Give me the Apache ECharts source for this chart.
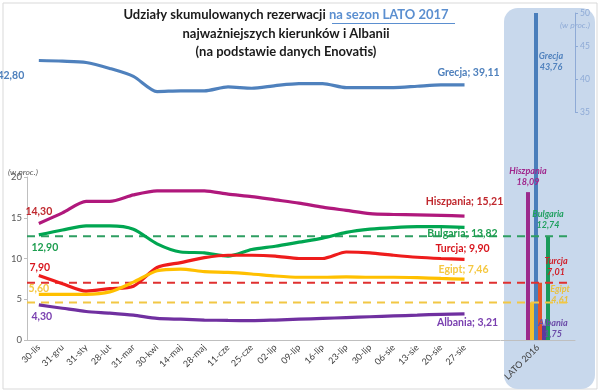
<!DOCTYPE html>
<html><head><meta charset="utf-8">
<script src="https://cdn.jsdelivr.net/npm/echarts@6/dist/echarts.min.js"></script>
<style>html,body{margin:0;padding:0;background:#fff}#c{width:600px;height:392px}</style>
</head><body><div id="c"></div>
<script>
const categories = ['30-lis','31-gru','31-sty','28-lut','31-mar','30-kwi','14-maj','28-maj','11-cze','25-cze','02-lip','09-lip','16-lip','23-lip','30-lip','06-sie','13-sie','20-sie','27-sie',''];
const grecja    = [42.80,42.7,42.5,41.6,40.4,38.1,38.2,38.2,38.8,38.6,39.0,39.3,39.3,38.7,38.7,38.7,38.9,39.1,39.11];
const hiszpania = [14.30,15.6,17.0,17.0,17.8,18.3,18.3,18.3,17.9,17.6,17.2,16.8,16.3,15.9,15.5,15.4,15.35,15.3,15.21];
const bulgaria  = [12.90,13.5,14.0,14.0,13.6,11.8,10.8,10.7,10.3,11.1,11.5,12.0,12.5,13.2,13.6,13.8,13.9,13.9,13.82];
const turcja    = [7.90,6.9,6.0,6.3,6.6,8.9,9.5,10.1,10.4,10.4,10.3,10.0,10.0,10.8,10.7,10.4,10.15,10.0,9.90];
const egipt     = [5.60,5.6,5.6,5.9,7.1,8.5,8.7,8.4,8.3,8.1,7.85,7.7,7.7,7.75,7.7,7.7,7.65,7.55,7.46];
const albania   = [4.30,3.9,3.5,3.3,3.05,2.65,2.55,2.45,2.4,2.37,2.45,2.55,2.65,2.75,2.85,2.95,3.05,3.15,3.21];
const lato2016Cat = ['LATO 2016'];
const lato2016 = {Hiszpania:18.09, Egipt:4.61, Grecja:43.76, Turcja:7.01, Albania:1.75, Bulgaria:12.74};
const leftTicks = [0,5,10,15,20];
const rightTicks = [35,40,45,50];

const FF = 'Lato, "Liberation Sans", sans-serif';
const fmt = v => v.toFixed(2).replace('.', ',');

function lineSeries(name, vals, color, xi, yi, startLab, endLab, labColor){
  const last = vals.length - 1;
  const lab = (off, txt) => ({show:true, position:'inside', offset:off, formatter:txt, color:labColor,
    fontFamily:FF, fontWeight:'bold', fontSize:10.5});
  const data = vals.map((v,i)=>{
    if(i===0) return {value:v, label:lab(startLab, fmt(v))};
    if(i===last) return {value:v, label:lab(endLab, name+'; '+fmt(v))};
    return v;
  });
  return {type:'line', name, xAxisIndex:xi, yAxisIndex:yi, data, smooth:0.25, showSymbol:true, showAllSymbol:true,
    symbol:'circle', symbolSize:1,
    lineStyle:{color, width:3.2}, itemStyle:{color:'rgba(0,0,0,0)', borderWidth:0}, z:4,
    label:{show:false}, emphasis:{disabled:true}, animation:false};
}
function barSeries(name, color, labColor, off){
  return {type:'bar', name, xAxisIndex:2, yAxisIndex:2, data:[lato2016[name]], barWidth:4, barGap:0, clip:true,
    itemStyle:{color}, animation:false, z:3,
    label:{show:true, position:'top', offset:off, formatter:()=>name+'\n'+fmt(lato2016[name]), color:labColor,
      fontFamily:FF, fontStyle:'italic', fontWeight:'bold', fontSize:9, lineHeight:11}};
}
function dashSeries(v, color){
  return {type:'line', xAxisIndex:3, yAxisIndex:3, data:[[0,v],[1,v]], symbol:'none', z:3,
    lineStyle:{color, width:2, type:[8,6]}, animation:false, silent:true};
}

const chart = echarts.init(document.getElementById('c'), null, {renderer:'canvas'});
chart.setOption({
  animation:false,
  backgroundColor:'#fff',
  grid:[
    {left:27, right:100, top:177, bottom:52},
    {left:27, right:100, top:13, bottom:280},
    {left:501, width:74, top:13, bottom:52},
    {left:27, right:28, top:177, bottom:52}
  ],
  xAxis:[
    {type:'category', gridIndex:0, data:categories, boundaryGap:true,
      axisLine:{lineStyle:{color:'#bfbfbf'}}, axisTick:{length:4, lineStyle:{color:'#bfbfbf'}},
      axisLabel:{rotate:45, interval:0, fontSize:9, color:'#404040', fontFamily:FF, margin:6}},
    {type:'category', gridIndex:1, data:categories, boundaryGap:true, show:false},
    {type:'category', gridIndex:2, data:lato2016Cat,
      axisLine:{lineStyle:{color:'#bfbfbf'}}, axisTick:{length:4, lineStyle:{color:'#bfbfbf'}},
      axisLabel:{rotate:45, interval:0, fontSize:9, color:'#404040', fontFamily:FF, margin:6}},
    {type:'value', gridIndex:3, min:0, max:1, show:false}
  ],
  yAxis:[
    {type:'value', gridIndex:0, min:leftTicks[0], max:leftTicks[leftTicks.length-1], interval:5,
      axisLine:{show:true, lineStyle:{color:'#bfbfbf'}}, axisTick:{show:true, length:3, lineStyle:{color:'#bfbfbf'}}, splitLine:{show:false},
      axisLabel:{fontSize:9.5, color:'#595959', fontFamily:FF, margin:5}},
    {type:'value', gridIndex:1, min:rightTicks[0], max:rightTicks[rightTicks.length-1], interval:5, position:'right', offset:75,
      axisLine:{show:true, lineStyle:{color:'#8eaad6'}}, axisTick:{show:true, length:3, lineStyle:{color:'#8eaad6'}}, splitLine:{show:false},
      axisLabel:{fontSize:8.5, color:'#8eaad6', fontFamily:FF, margin:5}},
    {type:'value', gridIndex:2, min:0, max:40, show:false},
    {type:'value', gridIndex:3, min:0, max:20, show:false}
  ],
  graphic:[
    {type:'rect', z:-1, shape:{x:504, y:8, width:91, height:381, r:14}, style:{fill:'#c8d8ec'}},
    {type:'rect', z:-2, shape:{x:3, y:3, width:594, height:386}, style:{fill:'none', stroke:'#d9d9d9', lineWidth:1}},
    {type:'text', x:286, y:15, style:{text:'{a|Udziały skumulowanych rezerwacji }{b|na sezon LATO 2017}', align:'center', verticalAlign:'middle',
      rich:{a:{fontFamily:FF, fontWeight:'bold', fontSize:13, fill:'#1a1a1a'}, b:{fontFamily:FF, fontWeight:'bold', fontSize:13, fill:'#5b8fd0'}}}},
    {type:'line', shape:{x1:332, y1:23.5, x2:455, y2:23.5}, style:{stroke:'#5b8fd0', lineWidth:1}},
    {type:'text', x:286, y:34, style:{text:'najważniejszych kierunków i Albanii', align:'center', verticalAlign:'middle', fontFamily:FF, fontWeight:'bold', fontSize:13, fill:'#1a1a1a'}},
    {type:'text', x:286, y:52, style:{text:'(na podstawie danych Enovatis)', align:'center', verticalAlign:'middle', fontFamily:FF, fontWeight:'bold', fontSize:13, fill:'#1a1a1a'}},
    {type:'text', x:8, y:172, style:{text:'(w proc.)', verticalAlign:'middle', fontFamily:FF, fontStyle:'italic', fontSize:8.5, fill:'#595959'}},
    {type:'text', x:560, y:25, style:{text:'(w proc.)', verticalAlign:'middle', fontFamily:FF, fontStyle:'italic', fontSize:8.5, fill:'#8eaad6'}}
  ],
  series:[
    dashSeries(lato2016.Bulgaria, '#2e9e62'),
    dashSeries(lato2016.Turcja, '#e03030'),
    dashSeries(lato2016.Egipt, '#f2c744'),
    lineSeries('Grecja', grecja, '#4f81bd', 1, 1, [-28,15], [4,-12], '#4f81bd'),
    lineSeries('Hiszpania', hiszpania, '#b0187c', 0, 0, [0,-12], [0,-14], '#c0282e'),
    lineSeries('Bulgaria', bulgaria, '#00a651', 0, 0, [6,13], [-2,6], '#1e9e50'),
    lineSeries('Turcja', turcja, '#ee1c1c', 0, 0, [1,-8], [-2,-11], '#d8161e'),
    lineSeries('Egipt', egipt, '#ffc000', 0, 0, [0,-6], [-1,-10], '#f5c842'),
    lineSeries('Albania', albania, '#7030a0', 0, 0, [3,12], [3,9], '#7a40b0'),
    barSeries('Hiszpania', '#9b2a8c', '#a0268c', [0,0]),
    barSeries('Egipt', '#f2c12e', '#e8c040', [28,8]),
    barSeries('Grecja', '#4a7ebb', '#4f81bd', [15,65]),
    barSeries('Turcja', '#e2532b', '#d0202a', [16,0]),
    barSeries('Albania', '#5b3a9e', '#6a4aa8', [9,19]),
    barSeries('Bulgaria', '#1a9a5a', '#20a060', [0,0])
  ]
});
</script></body></html>
